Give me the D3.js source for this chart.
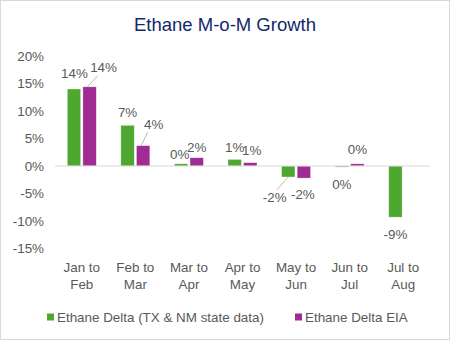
<!DOCTYPE html>
<html>
<head>
<meta charset="utf-8">
<script src="https://cdn.jsdelivr.net/npm/d3@7"></script>
<style>
  body { margin: 0; background: #fff; }
  svg text { font-family: "Liberation Sans", Arial, sans-serif; }
</style>
</head>
<body>
<div id="chart"></div>
<script>
// month-over-month ethane growth, percent
var categories = ["Jan to Feb", "Feb to Mar", "Mar to Apr", "Apr to May", "May to Jun", "Jun to Jul", "Jul to Aug"];
var catLines = [["Jan to", "Feb"], ["Feb to", "Mar"], ["Mar to", "Apr"], ["Apr to", "May"], ["May to", "Jun"], ["Jun to", "Jul"], ["Jul to", "Aug"]];
var seriesNames = ["Ethane Delta (TX & NM state data)", "Ethane Delta EIA"];
var stateDelta = [14.0, 7.4, 0.4, 1.2, -2.0, -0.2, -9.3];
var eiaDelta = [14.4, 3.7, 1.5, 0.6, -2.2, 0.4, null];
var yTicks = [20, 15, 10, 5, 0, -5, -10, -15];

var colors = ["#4ea72e", "#a02b93"];
var textGray = "#595959";
var fontSize = "13.4px";

// hand-placed label offsets from the bar end [dx, dy], and which ones get a leader line
var labelNudge = [
  [[0.5, -16], [0, -13], [-1.5, -9], [0, -12], [-13.5, 20], [0, 17], [0, 17]],
  [[14, -19], [10.5, -21.5], [0, -10], [1.5, -12.5], [-1, 16], [0, -14], [0, 0]]
];
var leaders = [[false, false, false, false, true, false, false], [true, true, false, false, false, false, false]];

var width = 450, height = 340;
var svg = d3.select("#chart").append("svg")
  .attr("width", width).attr("height", height);

svg.append("rect")
  .attr("x", 0.5).attr("y", 0.5)
  .attr("width", width - 1).attr("height", height - 1)
  .attr("fill", "#fff").attr("stroke", "#d9d9d9");

svg.append("text")
  .attr("x", 225).attr("y", 31)
  .attr("text-anchor", "middle")
  .style("font-size", "18.5px")
  .attr("fill", "#13286b")
  .text("Ethane M-o-M Growth");

var x = d3.scaleBand().domain(categories).range([55, 430]);
var y = d3.scaleLinear().domain([-15, 20]).range([248.5, 56]);
var x1 = d3.scaleBand().domain(seriesNames).range([-14.5, 14.5]).paddingInner(0.14);

// y axis labels only, no gridlines
var yAxis = svg.append("g")
  .attr("transform", "translate(44,0)")
  .call(d3.axisLeft(y).tickValues(yTicks).tickSize(0).tickPadding(0).tickFormat(function(d) { return d + "%"; }));
yAxis.select(".domain").remove();
yAxis.selectAll("text")
  .attr("fill", textGray)
  .style("font-size", fontSize)
  .style("font-family", "'Liberation Sans', Arial, sans-serif");

var series = [stateDelta, eiaDelta];

series.forEach(function(vals, si) {
  var pts = vals.map(function(v, i) { return { v: v, i: i }; }).filter(function(d) { return d.v !== null; });

  svg.append("g").selectAll("rect")
    .data(pts)
    .enter().append("rect")
    .attr("x", function(d) { return x(categories[d.i]) + x.bandwidth() / 2 + x1(seriesNames[si]); })
    .attr("width", x1.bandwidth())
    .attr("y", function(d) { return y(Math.max(0, d.v)); })
    .attr("height", function(d) { return Math.abs(y(d.v) - y(0)); })
    .attr("fill", colors[si])
    .attr("stroke", "#fff")
    .attr("stroke-opacity", 0.6)
    .attr("stroke-width", 0.6);
});

// zero line
svg.append("line")
  .attr("x1", 55).attr("x2", 430)
  .attr("y1", y(0)).attr("y2", y(0))
  .attr("stroke", "#d9d9d9").attr("stroke-width", 1.2);

series.forEach(function(vals, si) {
  vals.forEach(function(v, i) {
    if (v === null) return;
    var bx = x(categories[i]) + x.bandwidth() / 2 + x1(seriesNames[si]) + x1.bandwidth() / 2;
    var by = y(v);
    var lx = bx + labelNudge[si][i][0];
    var ly = by + labelNudge[si][i][1];
    if (leaders[si][i]) {
      var up = ly < by;
      svg.append("line")
        .attr("x1", lx + (up ? -6 : 2)).attr("y1", ly + (up ? 8 : -7))
        .attr("x2", bx + (up ? -2 : 0)).attr("y2", by)
        .attr("stroke", "#a6a6a6").attr("stroke-width", 0.8);
    }
    svg.append("text")
      .attr("x", lx).attr("y", ly)
      .attr("dy", "0.35em")
      .attr("text-anchor", "middle")
      .style("font-size", fontSize)
      .attr("fill", textGray)
      .text(Math.round(v) + "%");
  });
});

// two-line category labels
var catG = svg.append("g").selectAll("text")
  .data(categories)
  .enter().append("text")
  .attr("x", function(d) { return x(d) + x.bandwidth() / 2; })
  .attr("y", 272)
  .attr("text-anchor", "middle")
  .style("font-size", fontSize)
  .attr("fill", textGray);
catG.selectAll("tspan")
  .data(function(d, i) { return catLines[i]; })
  .enter().append("tspan")
  .attr("x", function() { return d3.select(this.parentNode).attr("x"); })
  .attr("dy", function(d, j) { return j === 0 ? 0 : 16.5; })
  .text(function(d) { return d; });

// legend
var legendX = [47, 295];
var legend = svg.append("g").selectAll("g")
  .data(seriesNames)
  .enter().append("g")
  .attr("transform", function(d, i) { return "translate(" + legendX[i] + ",317)"; });
legend.append("rect")
  .attr("x", 0).attr("y", -3.5)
  .attr("width", 7).attr("height", 7)
  .attr("fill", function(d, i) { return colors[i]; });
legend.append("text")
  .attr("x", 10).attr("dy", "0.35em")
  .style("font-size", fontSize)
  .attr("fill", textGray)
  .text(function(d) { return d; });
</script>
</body>
</html>
